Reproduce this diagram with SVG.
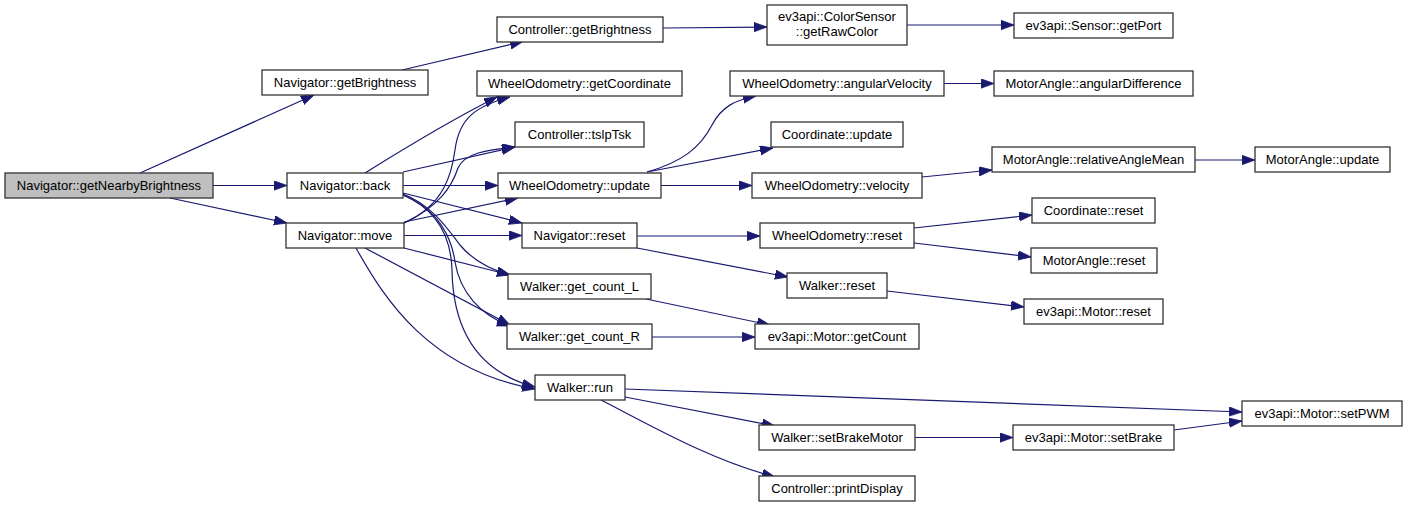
<svg xmlns="http://www.w3.org/2000/svg" width="1408" height="508" viewBox="0 0 1408 508">
<style>
.n rect{fill:#ffffff;stroke:#333333;stroke-width:1.3}
.n.root rect{fill:#bfbfbf}
.n text{font-family:"Liberation Sans",Arial,Helvetica,sans-serif;font-size:13px;fill:#000000;text-anchor:middle}
#edges path{fill:none;stroke:#191970;stroke-width:1.2;marker-end:url(#arr)}
</style>
<defs>
<marker id="arr" markerUnits="userSpaceOnUse" markerWidth="14" markerHeight="10" refX="13" refY="4.65" orient="auto">
<path d="M0,0 L13,4.65 L0,9.3 Z" fill="#191970" stroke="#191970" stroke-width="0.8"/>
</marker>
</defs>
<rect width="1408" height="508" fill="#ffffff"/>
<g id="edges">
<path d="M140,173 L314,95"/>
<path d="M213,185.5 L287,185.5"/>
<path d="M170,198 L287,223"/>
<path d="M402,70 L523,41.5"/>
<path d="M663,28 L767,27"/>
<path d="M907,25 L1014,25"/>
<path d="M365,173 C405,148 455,118 497,97"/>
<path d="M403,172 L515,147"/>
<path d="M403,185.5 L498,185.5"/>
<path d="M403,193 L522,223"/>
<path d="M403,194 C430,204 446,226 460,245 C474,262 492,270 510,275"/>
<path d="M403,195 C440,210 452,240 455,262 C460,292 480,315 510,326"/>
<path d="M403,195 C438,210 451,238 452,270 C453,330 478,372 535,387"/>
<path d="M404,223 C445,205 452,172 455,150 C459,118 476,106 510,97"/>
<path d="M404,223 C440,206 452,186 458,168 C465,153 486,150 515,147"/>
<path d="M404,222 L518,198"/>
<path d="M404,235.5 L522,235.5"/>
<path d="M404,248 L510,275"/>
<path d="M365,248 L510,325"/>
<path d="M356,248 C385,300 430,370 535,389"/>
<path d="M647,172 C682,162 700,148 712,125 C722,106 736,100 756,96"/>
<path d="M647,172 L773,148"/>
<path d="M661,185.5 L752,185.5"/>
<path d="M944,83.5 L994,83.5"/>
<path d="M922,177 L992,170"/>
<path d="M1195,160 L1255,160"/>
<path d="M637,236 L760,236"/>
<path d="M637,248 L788,277"/>
<path d="M914,228 L1032,215"/>
<path d="M914,243 L1031,257"/>
<path d="M887,291 L1024,307"/>
<path d="M646,299 L770,325"/>
<path d="M652,337 L755,337"/>
<path d="M625,389 L1242,412"/>
<path d="M625,397 L775,426"/>
<path d="M601,400 C650,425 710,460 775,477"/>
<path d="M915,437.5 L1013,437.5"/>
<path d="M1174,430 L1242,421"/>
</g>
<g id="n0" class="n root"><rect x="5" y="173" width="208" height="25"/><text x="109" y="189.5">Navigator::getNearbyBrightness</text></g>
<g id="n1" class="n"><rect x="262" y="70" width="166" height="25"/><text x="345" y="86.5">Navigator::getBrightness</text></g>
<g id="n2" class="n"><rect x="287" y="173" width="116" height="25"/><text x="345" y="189.5">Navigator::back</text></g>
<g id="n3" class="n"><rect x="286" y="223" width="118" height="25"/><text x="345" y="239.5">Navigator::move</text></g>
<g id="n4" class="n"><rect x="497" y="17" width="166" height="25"/><text x="580" y="33.5">Controller::getBrightness</text></g>
<g id="n5" class="n"><rect x="767" y="5" width="140" height="40"/><text x="837" y="20.5">ev3api::ColorSensor</text><text x="837" y="36">::getRawColor</text></g>
<g id="n6" class="n"><rect x="1014" y="13" width="159" height="25"/><text x="1093.5" y="29.5">ev3api::Sensor::getPort</text></g>
<g id="n7" class="n"><rect x="477" y="71" width="205" height="25"/><text x="579.5" y="87.5">WheelOdometry::getCoordinate</text></g>
<g id="n8" class="n"><rect x="515" y="122" width="129" height="25"/><text x="579.5" y="138.5">Controller::tslpTsk</text></g>
<g id="n9" class="n"><rect x="498" y="173" width="163" height="25"/><text x="579.5" y="189.5">WheelOdometry::update</text></g>
<g id="n10" class="n"><rect x="522" y="223" width="115" height="25"/><text x="579.5" y="239.5">Navigator::reset</text></g>
<g id="n11" class="n"><rect x="508" y="274" width="143" height="25"/><text x="579.5" y="290.5">Walker::get_count_L</text></g>
<g id="n12" class="n"><rect x="507" y="324" width="145" height="25"/><text x="579.5" y="340.5">Walker::get_count_R</text></g>
<g id="n13" class="n"><rect x="535" y="375" width="90" height="25"/><text x="580" y="391.5">Walker::run</text></g>
<g id="n14" class="n"><rect x="730" y="71" width="214" height="25"/><text x="837" y="87.5">WheelOdometry::angularVelocity</text></g>
<g id="n15" class="n"><rect x="771" y="122" width="132" height="25"/><text x="837" y="138.5">Coordinate::update</text></g>
<g id="n16" class="n"><rect x="752" y="173" width="170" height="25"/><text x="837" y="189.5">WheelOdometry::velocity</text></g>
<g id="n17" class="n"><rect x="760" y="223" width="154" height="25"/><text x="837" y="239.5">WheelOdometry::reset</text></g>
<g id="n18" class="n"><rect x="787" y="273" width="100" height="25"/><text x="837" y="289.5">Walker::reset</text></g>
<g id="n19" class="n"><rect x="755" y="324" width="164" height="25"/><text x="837" y="340.5">ev3api::Motor::getCount</text></g>
<g id="n20" class="n"><rect x="759" y="425" width="156" height="25"/><text x="837" y="441.5">Walker::setBrakeMotor</text></g>
<g id="n21" class="n"><rect x="759" y="476" width="156" height="25"/><text x="837" y="492.5">Controller::printDisplay</text></g>
<g id="n22" class="n"><rect x="994" y="71" width="199" height="25"/><text x="1093.5" y="87.5">MotorAngle::angularDifference</text></g>
<g id="n23" class="n"><rect x="992" y="147" width="203" height="25"/><text x="1093.5" y="163.5">MotorAngle::relativeAngleMean</text></g>
<g id="n24" class="n"><rect x="1032" y="198" width="123" height="25"/><text x="1093.5" y="214.5">Coordinate::reset</text></g>
<g id="n25" class="n"><rect x="1031" y="248" width="126" height="25"/><text x="1094" y="264.5">MotorAngle::reset</text></g>
<g id="n26" class="n"><rect x="1024" y="299" width="139" height="25"/><text x="1093.5" y="315.5">ev3api::Motor::reset</text></g>
<g id="n27" class="n"><rect x="1013" y="425" width="161" height="25"/><text x="1093.5" y="441.5">ev3api::Motor::setBrake</text></g>
<g id="n28" class="n"><rect x="1255" y="147" width="135" height="25"/><text x="1322.5" y="163.5">MotorAngle::update</text></g>
<g id="n29" class="n"><rect x="1242" y="401" width="160" height="25"/><text x="1322" y="417.5">ev3api::Motor::setPWM</text></g>
</svg>
